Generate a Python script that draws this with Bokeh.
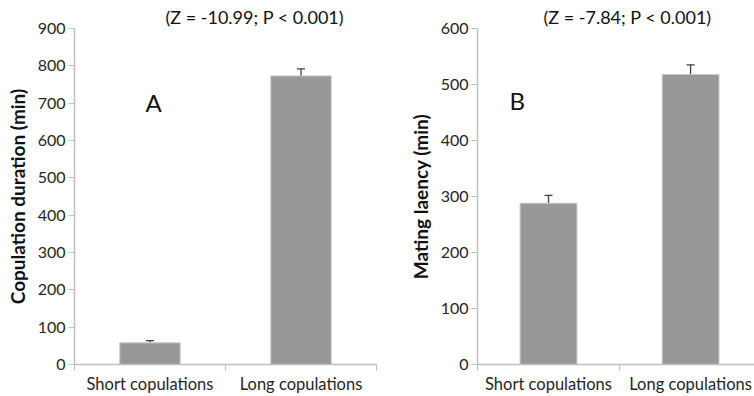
from bokeh.plotting import figure
from bokeh.models import FixedTicker, Whisker, ColumnDataSource, Label, Range1d, TeeHead, Title
from bokeh.layouts import row
from bokeh.embed import file_html
from bokeh.resources import INLINE

categories = ["Short copulations", "Long copulations"]
dur_values = [58, 773]
dur_errors = [6, 19]
lat_values = [288, 518]
lat_errors = [14, 17]
dur_ticks = list(range(0, 1000, 100))
lat_ticks = list(range(0, 700, 100))
dur_stat = "(Z = -10.99; P < 0.001)"
lat_stat = "(Z = -7.84; P < 0.001)"

FONT = "Lato"
AXIS_COL = "#bfbfbf"
TXT = "#262626"
BAR = "#989898"


def make(values, errors, yticks, ylabel, stat, letter, width, mbl, mbr, mbt, xend,
         stat_offset, letter_xy):
    p = figure(width=width, height=396, output_backend="svg", toolbar_location=None,
               x_range=Range1d(0, xend), y_range=Range1d(yticks[0], yticks[-1]),
               min_border_left=mbl, min_border_right=mbr, min_border_top=mbt,
               min_border_bottom=30)
    p.outline_line_color = None
    p.xgrid.visible = False
    p.ygrid.visible = False
    p.background_fill_color = "white"
    p.border_fill_color = "white"
    xs = [i + 0.5 for i in range(len(categories))]
    src = ColumnDataSource(dict(x=xs, top=values, upper=[v + e for v, e in zip(values, errors)]))
    p.vbar(x="x", top="top", width=0.4, bottom=0, source=src, fill_color=BAR,
           line_color="#c8c8c8", line_width=1)
    w = Whisker(base="x", lower="top", upper="upper", source=src, line_color="#404040",
                line_width=1.3, lower_head=None,
                upper_head=TeeHead(size=8, line_color="#404040", line_width=1.3))
    p.add_layout(w)

    xa = p.xaxis[0]
    xa.ticker = FixedTicker(ticks=xs, minor_ticks=list(range(len(categories) + 1)))
    xa.major_label_overrides = {x: c for x, c in zip(xs, categories)}
    xa.major_tick_line_color = None
    xa.major_tick_out = 0
    xa.major_tick_in = 0
    xa.minor_tick_in = 0
    xa.minor_tick_out = 6
    xa.minor_tick_line_color = AXIS_COL
    xa.axis_line_color = AXIS_COL
    xa.axis_line_width = 1.5
    xa.major_label_text_font = FONT
    xa.major_label_text_font_size = "16.5px"
    xa.major_label_text_color = TXT
    xa.major_label_standoff = 3

    ya = p.yaxis[0]
    ya.ticker = FixedTicker(ticks=yticks)
    ya.minor_tick_line_color = None
    ya.major_tick_in = 0
    ya.major_tick_out = 6
    ya.major_tick_line_color = AXIS_COL
    ya.axis_line_color = AXIS_COL
    ya.axis_line_width = 1.5
    ya.major_label_text_font = FONT
    ya.major_label_text_font_size = "16px"
    ya.major_label_text_color = TXT
    ya.major_label_standoff = 3
    ya.axis_label = ylabel
    ya.axis_label_text_font = FONT
    ya.axis_label_text_font_style = "bold"
    ya.axis_label_text_font_size = "19px"
    ya.axis_label_text_color = "#111111"
    ya.axis_label_standoff = 6

    t = Title(text=stat, align="left", offset=stat_offset, standoff=2,
              text_font=FONT, text_font_size="18px", text_font_style="normal",
              text_color="#111111")
    p.add_layout(t, "above")
    p.add_layout(Label(x=letter_xy[0], y=letter_xy[1], text=letter, text_font=FONT,
                       text_font_size="24px", text_color="#111111",
                       text_align="center", text_baseline="middle"))
    return p


p1 = make(dur_values, dur_errors, dur_ticks, "Copulation duration (min)", dur_stat, "A",
          380, 74, 4, 28, 2.0, 91, (0.524, 703))
p2 = make(lat_values, lat_errors, lat_ticks, "Mating laency (min)", lat_stat, "B",
          374, 97, 0, 26, 1.95, 66, (0.28, 471))

layout = row(p1, p2)
open("out.html", "w").write(file_html(layout, INLINE))
